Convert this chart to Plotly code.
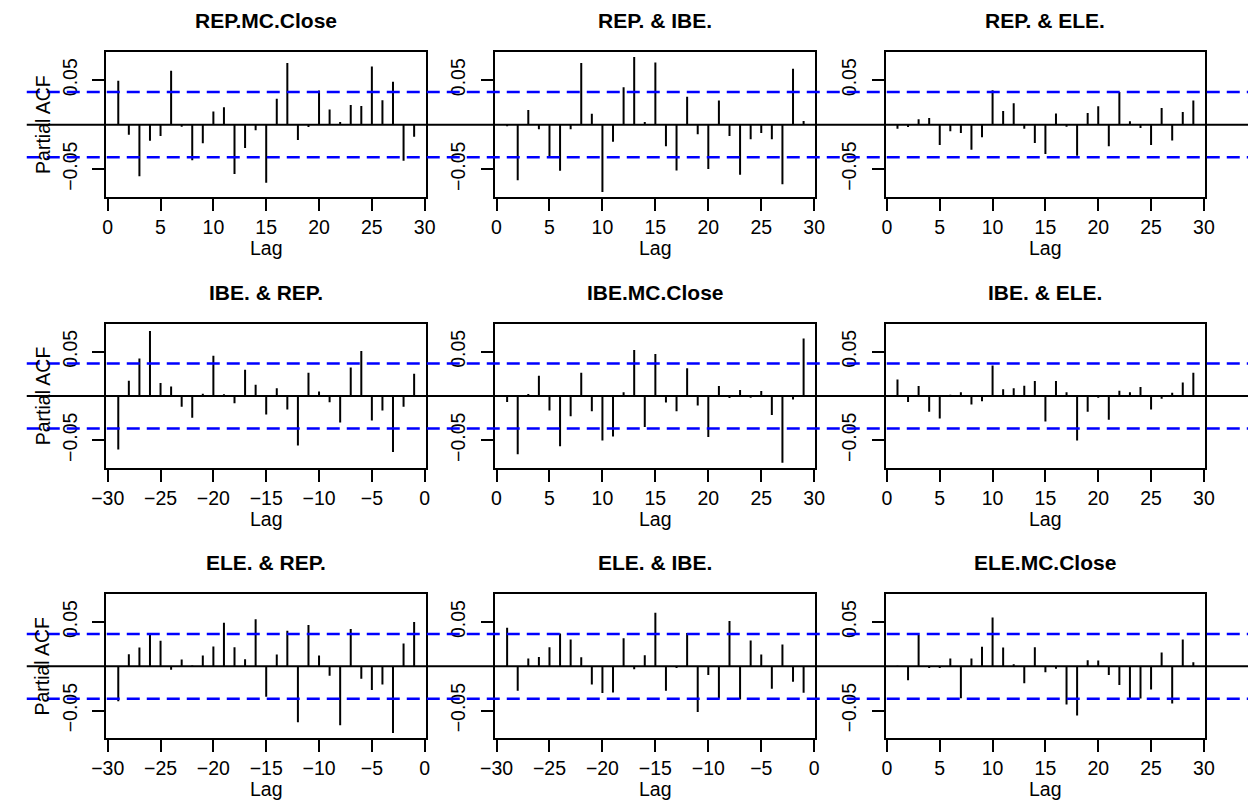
import plotly.graph_objects as go

# ---------------- data ----------------
titles = ["REP.MC.Close", "REP. & IBE.", "REP. & ELE.",
          "IBE. & REP.", "IBE.MC.Close", "IBE. & ELE.",
          "ELE. & REP.", "ELE. & IBE.", "ELE.MC.Close"]

lags_pos = list(range(1, 30))
lags_neg = list(range(-29, 0))

rep_close = [0.0492, -0.0113, -0.0579, -0.018, -0.0128, 0.0605, -0.0023, -0.0399, -0.021, 0.0147,
             0.0196, -0.0556, -0.0263, -0.0064, -0.0654, 0.029, 0.0692, -0.0173, -0.0026, 0.0384,
             0.0169, 0.003, 0.0222, 0.021, 0.0654, 0.0274, 0.0481, -0.0406, -0.0135]
rep_ibe = [-0.0019, -0.0624, 0.0165, -0.0053, -0.0368, -0.0519, -0.0053, 0.0692, 0.0122, -0.0756,
           -0.0192, 0.0421, 0.0759, 0.003, 0.0699, -0.0244, -0.0515, 0.0312, -0.0109, -0.05,
           0.0271, -0.0128, -0.0564, -0.0165, -0.0094, -0.0165, -0.0669, 0.0628, 0.0041]
rep_ele = [-0.0045, -0.0026, 0.006, 0.0075, -0.0229, -0.0075, -0.0094, -0.0282, -0.0143, 0.0387,
           0.0154, 0.024, -0.0045, -0.0207, -0.0331, 0.0124, -0.0023, -0.035, 0.0132, 0.0207,
           -0.0244, 0.0368, 0.0038, -0.0038, -0.0229, 0.0188, -0.0177, 0.0143, 0.0271]
ibe_rep = [-0.0604, 0.0172, 0.0422, 0.0735, 0.0146, 0.0108, -0.0123, -0.0246, 0.0026, 0.0455,
           0.0019, -0.0082, 0.0295, 0.0127, -0.0209, 0.0086, -0.0153, -0.056, 0.0261, 0.0052,
           -0.0071, -0.0299, 0.0321, 0.0507, -0.0276, -0.0164, -0.0634, -0.0123, 0.025]
ibe_close = [-0.0067, -0.0657, 0.0022, 0.0228, -0.0164, -0.0567, -0.0228, 0.0261, -0.0172, -0.0504,
             -0.0459, 0.0041, 0.0519, -0.0351, 0.0474, -0.0075, -0.0172, 0.0313, -0.0108, -0.0463,
             0.0112, -0.0022, 0.0067, -0.0019, 0.0056, -0.0216, -0.0754, -0.0041, 0.0649]
ibe_ele = [0.0187, -0.0067, 0.0112, -0.0179, -0.0254, 0.0015, 0.0041, -0.0097, -0.006, 0.0343,
           0.0075, 0.0086, 0.0116, 0.0168, -0.0287, 0.0168, 0.0041, -0.0504, -0.0179, -0.0019,
           -0.0269, 0.006, 0.0041, 0.0101, -0.0153, -0.003, 0.0037, 0.0153, 0.0261]
ele_rep = [-0.0394, 0.0136, 0.0212, 0.0352, 0.0288, -0.0038, 0.0076, 0.0008, 0.0121, 0.0224,
           0.0493, 0.0216, 0.008, 0.0531, -0.0345, 0.0133, 0.0402, -0.0633, 0.0466, 0.0121,
           -0.0106, -0.0667, 0.0421, -0.014, -0.0269, -0.0205, -0.0754, 0.0258, 0.05]
ele_ibe = [0.0436, -0.0277, 0.0087, 0.0106, 0.0216, 0.0371, 0.0303, 0.0102, -0.0205, -0.0303,
           -0.0296, 0.0318, -0.0034, 0.0125, 0.0606, -0.0277, -0.0019, 0.0375, -0.0515, -0.0099,
           -0.0364, 0.0511, -0.0375, 0.0292, 0.0133, -0.0254, 0.0246, -0.0174, -0.0299]
ele_close = [0.0005, -0.0159, 0.0352, -0.0019, -0.0019, 0.0087, -0.036, 0.0087, 0.022, 0.055,
             0.0212, 0.0023, -0.0193, 0.0216, -0.0068, -0.0027, -0.0432, -0.0557, 0.0068, 0.0064,
             -0.0099, -0.0212, -0.0368, -0.0364, -0.0261, 0.0155, -0.0421, 0.0303, 0.0045]

series = [rep_close, rep_ibe, rep_ele, ibe_rep, ibe_close, ibe_ele, ele_rep, ele_ibe, ele_close]
lag_sets = [lags_pos, lags_pos, lags_pos, lags_neg, lags_pos, lags_pos, lags_neg, lags_neg, lags_pos]

ci = 0.0366
x_tick_pos = [0, 5, 10, 15, 20, 25, 30]
x_tick_neg = [-30, -25, -20, -15, -10, -5, 0]
y_ticks = [-0.05, 0.05]
y_ticktext = ["\u22120.05", "0.05"]

# ---------------- layout geometry ----------------
W, H = 1258, 805
col_px = [(93.3, 419.3), (490.0, 816.7), (888.3, 1214.3)]
row_px = [(52.3, 196.7), (324.0, 467.7), (594.3, 738.0)]
yrange = [-0.081, 0.0813]
FONT = "Liberation Sans, Arial, Helvetica, sans-serif"

fig = go.Figure()
layout = dict(width=W, height=H, margin=dict(l=0, r=0, t=0, b=0),
              paper_bgcolor="white", plot_bgcolor="rgba(0,0,0,0)", showlegend=False,
              font=dict(family=FONT, size=19.5, color="black"))
annotations = []
shapes = []

for i in range(9):
    r, c = divmod(i, 3)
    n = "" if i == 0 else str(i + 1)
    lags = lag_sets[i]
    vals = series[i]
    xs, ys = [], []
    for L, v in zip(lags, vals):
        xs += [L, L, None]
        ys += [0, v, None]
    fig.add_trace(go.Scatter(x=xs, y=ys, mode="lines",
                             line=dict(color="black", width=2),
                             xaxis="x" + n, yaxis="y" + n, hoverinfo="skip"))
    lo, hi = min(lags), max(lags)
    ext = (hi - lo) * 0.04
    xl, xr = col_px[c]
    yt, yb = row_px[r]
    xt = x_tick_pos if lo > 0 else x_tick_neg
    layout["xaxis" + n] = dict(
        domain=[xl / W, xr / W], range=[lo - ext, hi + ext], anchor="y" + n,
        tickvals=xt, ticktext=[str(t).replace("-", "\u2212") for t in xt],
        ticks="outside", ticklen=12, tickwidth=2, tickcolor="black",
        showline=True, linewidth=2, linecolor="black", mirror=True,
        showgrid=False, zeroline=False, tickfont=dict(size=19.5),
        ticklabeloverflow="allow")
    layout["yaxis" + n] = dict(
        domain=[1 - yb / H, 1 - yt / H], range=yrange, anchor="x" + n,
        tickvals=y_ticks, ticktext=y_ticktext, tickangle=-90,
        ticks="outside", ticklen=12, tickwidth=2, tickcolor="black",
        showline=True, linewidth=2, linecolor="black", mirror=True,
        showgrid=False, zeroline=False, tickfont=dict(size=19.5),
        ticklabelstandoff=8, ticklabeloverflow="allow")
    cx = (xl + xr) / 2 / W
    annotations.append(dict(text="<b>" + titles[i] + "</b>", x=cx, y=1 - (yt - 32) / H,
                            xref="paper", yref="paper", showarrow=False,
                            font=dict(size=21), xanchor="center", yanchor="middle"))
    annotations.append(dict(text="Lag", x=cx, y=1 - (yb + 51) / H,
                            xref="paper", yref="paper", showarrow=False,
                            font=dict(size=19.5), xanchor="center", yanchor="middle"))
    if c == 0:
        annotations.append(dict(text="Partial ACF", x=28 / W, y=1 - (yt + yb) / 2 / H,
                                xref="paper", yref="paper", showarrow=False, textangle=-90,
                                font=dict(size=19.5), xanchor="center", yanchor="middle"))
        for yv, col, dash, w in [(ci, "#0000FF", "13px,7px", 2.5), (-ci, "#0000FF", "13px,7px", 2.5),
                                 (0, "black", "solid", 2)]:
            shapes.append(dict(type="line", xref="paper", yref="y" + n,
                               x0=12 / W, x1=1, y0=yv, y1=yv,
                               line=dict(color=col, width=w, dash=dash)))

layout["annotations"] = annotations
layout["shapes"] = shapes
fig.update_layout(**layout)
fig.write_html("out.html", config={"staticPlot": True})
